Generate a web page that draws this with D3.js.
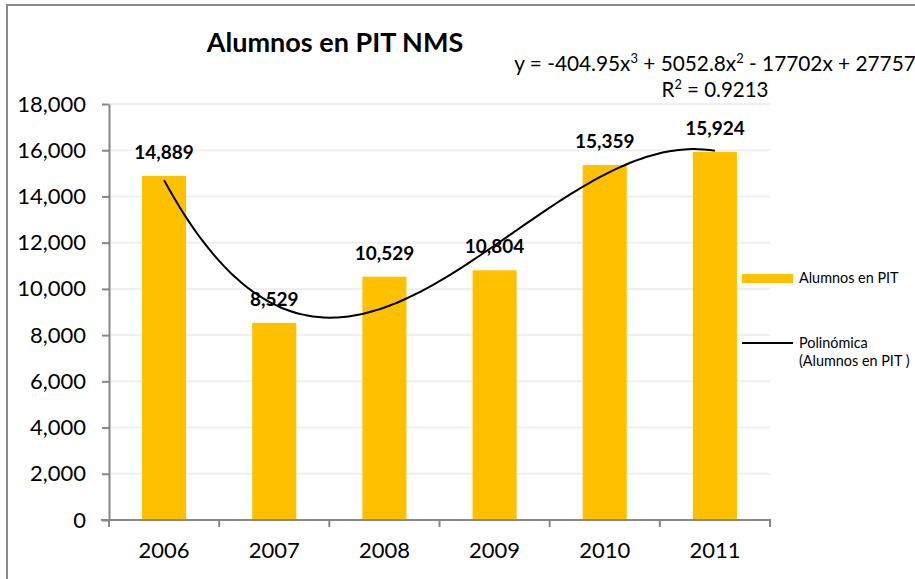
<!DOCTYPE html>
<html>
<head>
<meta charset="utf-8">
<script src="https://cdn.jsdelivr.net/npm/d3@7"></script>
<style>
  html, body { margin: 0; padding: 0; background: #fff; }
  svg { display: block; font-family: Lato, "Open Sans", sans-serif; }
</style>
</head>
<body>
<div id="chart"></div>
<script>
// ── Datos ────────────────────────────────────────────────────────────────
const years = ["2006", "2007", "2008", "2009", "2010", "2011"];
const alumnos = [14889, 8529, 10529, 10804, 15359, 15924];
const yTicks = [0, 2000, 4000, 6000, 8000, 10000, 12000, 14000, 16000, 18000];
// coeficientes de la línea de tendencia (x³, x², x, 1) tal como aparecen en el gráfico
const trendCoef = [-404.95, 5052.8, -17702, 27757];
const titulo = "Alumnos en PIT NMS";
const ecuacion = ["y = -404.95x", "3", " + 5052.8x", "2", " - 17702x + 27757"];
const r2 = ["R", "2", " = 0.9213"];
const serieNombre = "Alumnos en PIT";
const tendNombre = ["Polinómica", "(Alumnos en PIT  )"];

// ── Lienzo ───────────────────────────────────────────────────────────────
const width = 915, height = 579;
const plot = { left: 109, right: 770, top: 104, bottom: 520 };

const svg = d3.select("#chart").append("svg")
  .attr("width", width)
  .attr("height", height);

// marco exterior (se sale por derecha y abajo)
svg.append("rect")
  .attr("x", 7).attr("y", 5)
  .attr("width", 1000).attr("height", 700)
  .attr("fill", "none")
  .attr("stroke", "#8a8a8a")
  .attr("stroke-width", 2);

// ── Escalas ──────────────────────────────────────────────────────────────
const x = d3.scaleBand()
  .domain(years)
  .range([plot.left, plot.right])
  .paddingInner(0.6)
  .paddingOuter(0.3);

const y = d3.scaleLinear()
  .domain([0, 18000])
  .range([plot.bottom, plot.top]);

const fmt = d3.format(",");

// ── Rejilla ──────────────────────────────────────────────────────────────
svg.append("g")
  .selectAll("line")
  .data(yTicks.filter(d => d > 0))
  .join("line")
  .attr("x1", plot.left).attr("x2", plot.right)
  .attr("y1", d => y(d)).attr("y2", d => y(d))
  .attr("stroke", "#efefef")
  .attr("stroke-width", 2);

// ── Barras ───────────────────────────────────────────────────────────────
svg.append("g")
  .selectAll("rect")
  .data(alumnos)
  .join("rect")
  .attr("x", (d, i) => x(years[i]))
  .attr("y", d => y(d))
  .attr("width", x.bandwidth())
  .attr("height", d => y(0) - y(d))
  .attr("fill", "#ffc000");

// ── Eje Y ────────────────────────────────────────────────────────────────
const gy = svg.append("g")
  .attr("transform", `translate(${plot.left},0)`)
  .call(d3.axisLeft(y).tickValues(yTicks).tickFormat(fmt).tickSize(7).tickPadding(16).tickSizeOuter(0));
gy.select(".domain").attr("stroke", "#878787").attr("stroke-width", 2);
gy.selectAll(".tick line").attr("stroke", "#878787").attr("stroke-width", 2);
gy.selectAll(".tick text")
  .attr("fill", "#000")
  .style("font-size", "22px")
  .style("font-family", "Lato, sans-serif");

// ── Eje X ────────────────────────────────────────────────────────────────
const step = x.step();
const bordes = d3.range(years.length + 1).map(i => plot.left + i * step);

svg.append("line")
  .attr("x1", plot.left - 8).attr("x2", plot.right + 1)
  .attr("y1", y(0)).attr("y2", y(0))
  .attr("stroke", "#878787").attr("stroke-width", 2);

svg.append("g")
  .selectAll("line")
  .data(bordes)
  .join("line")
  .attr("x1", d => d).attr("x2", d => d)
  .attr("y1", y(0)).attr("y2", y(0) + 7)
  .attr("stroke", "#878787").attr("stroke-width", 2);

svg.append("g")
  .selectAll("text")
  .data(years)
  .join("text")
  .attr("x", d => x(d) + x.bandwidth() / 2)
  .attr("y", 558)
  .attr("text-anchor", "middle")
  .style("font-size", "22px")
  .text(d => d);

// ── Línea de tendencia polinómica ───────────────────────────────────────
const xt = d3.scaleLinear()
  .domain([1, years.length])
  .range([x(years[0]) + x.bandwidth() / 2, x(years[years.length - 1]) + x.bandwidth() / 2]);

const poly = t => trendCoef[0] * t ** 3 + trendCoef[1] * t ** 2 + trendCoef[2] * t + trendCoef[3];

const linea = d3.line()
  .x(t => xt(t))
  .y(t => y(poly(t)))
  .curve(d3.curveBasis);

svg.append("path")
  .datum(d3.range(1, years.length + 0.001, 0.05))
  .attr("d", linea)
  .attr("fill", "none")
  .attr("stroke", "#000")
  .attr("stroke-width", 2);

// ── Etiquetas de datos ──────────────────────────────────────────────────
svg.append("g")
  .selectAll("text")
  .data(alumnos)
  .join("text")
  .attr("x", (d, i) => x(years[i]) + x.bandwidth() / 2)
  .attr("y", d => y(d) - 17)
  .attr("text-anchor", "middle")
  .style("font-size", "19px")
  .style("font-weight", "bold")
  .text(d => fmt(d));

// ── Título ───────────────────────────────────────────────────────────────
svg.append("text")
  .attr("x", 335)
  .attr("y", 52)
  .attr("text-anchor", "middle")
  .style("font-size", "27px")
  .style("font-weight", "bold")
  .text(titulo);

// ── Ecuación y R² ────────────────────────────────────────────────────────
function conSuper(parts, xc, yb, fs) {
  const t = svg.append("text")
    .attr("x", xc).attr("y", yb)
    .attr("text-anchor", "middle")
    .style("font-size", fs + "px");
  parts.forEach((p, i) => {
    const sup = i % 2 === 1;
    t.append("tspan")
      .attr("dy", sup ? -8 : (i > 0 ? 8 : 0))
      .style("font-size", (sup ? fs * 0.62 : fs) + "px")
      .text(p);
  });
}
conSuper(ecuacion, 715, 71, 20.8);
conSuper(r2, 715, 97, 20.5);

// ── Leyenda ──────────────────────────────────────────────────────────────
const leg = svg.append("g");
leg.append("rect")
  .attr("x", 742).attr("y", 274)
  .attr("width", 51).attr("height", 9)
  .attr("fill", "#ffc000");
leg.append("text")
  .attr("x", 799).attr("y", 283)
  .style("font-size", "14.4px")
  .text(serieNombre);

leg.append("line")
  .attr("x1", 742).attr("x2", 793)
  .attr("y1", 343).attr("y2", 343)
  .attr("stroke", "#000").attr("stroke-width", 2);
leg.selectAll("text.tn")
  .data(tendNombre)
  .join("text")
  .attr("class", "tn")
  .attr("x", 799)
  .attr("y", (d, i) => 348 + i * 18)
  .style("font-size", "14.4px")
  .text(d => d);
</script>
</body>
</html>
